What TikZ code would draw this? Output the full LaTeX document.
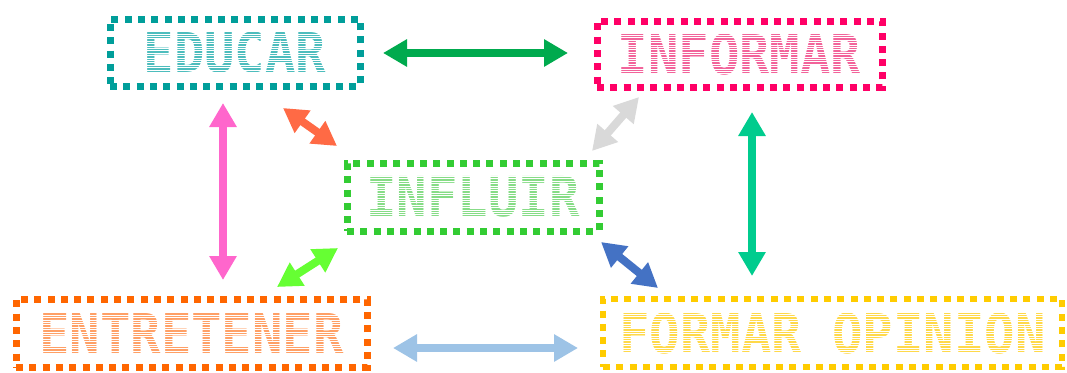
\documentclass[tikz,border=0pt]{standalone}
\usepackage{fontspec}
\setmonofont{DejaVu Sans Mono}
\usetikzlibrary{arrows.meta,calc}
\definecolor{cEdu}{HTML}{009E9A}
\definecolor{cEduT}{HTML}{4DBDBD}
\definecolor{cInf}{HTML}{FF0066}
\definecolor{cInfT}{HTML}{F2639A}
\definecolor{cFlu}{HTML}{33CC33}
\definecolor{cFluT}{HTML}{86DC86}
\definecolor{cEnt}{HTML}{FF6600}
\definecolor{cEntT}{HTML}{FFA066}
\definecolor{cFor}{HTML}{FFCC00}
\definecolor{cForT}{HTML}{FFD94A}
\definecolor{aGreen}{HTML}{00AA4E}
\definecolor{aPink}{HTML}{FF66CC}
\definecolor{aOrange}{HTML}{FF6A45}
\definecolor{aGrey}{HTML}{D9D9D9}
\definecolor{aTeal}{HTML}{00CC8E}
\definecolor{aLime}{HTML}{66FF33}
\definecolor{aBlue}{HTML}{4472C4}
\definecolor{aSky}{HTML}{9DC3E6}
\begin{document}
\begin{tikzpicture}[x=1pt,y=-1pt,
  box/.style={draw, rectangle, line width=7pt, dash pattern=on 7pt off 6.3pt,
    inner sep=0pt, outer sep=0pt},
  lbl/.style={inner sep=0pt, xscale=0.92, font=\ttfamily\bfseries\fontsize{55}{55}\selectfont},
  dbl/.style={line width=8pt, {Triangle[width=26pt,length=24pt]}-{Triangle[width=26pt,length=24pt]}},
  stripe/.style={draw=white, line width=0.8pt}
]
\useasboundingbox (0,0) rectangle (1067,372);
\node[box, draw=cEdu, minimum width=250pt, minimum height=67pt] (educar) at (235,52.5) {};
\node[lbl, text=cEduT] (teducar) at (educar.center) {EDUCAR};
\node[box, draw=cInf, minimum width=285pt, minimum height=66pt] (informar) at (739.5,54) {};
\node[lbl, text=cInfT] (tinformar) at (informar.center) {INFORMAR};
\node[box, draw=cFlu, minimum width=252pt, minimum height=68pt] (influir) at (473,197) {};
\node[lbl, text=cFluT] (tinfluir) at (influir.center) {INFLUIR};
\node[box, draw=cEnt, minimum width=351pt, minimum height=68pt] (entretener) at (191.5,333) {};
\node[lbl, text=cEntT] (tentretener) at (entretener.center) {ENTRETENER};
\node[box, draw=cFor, line width=6pt, minimum width=459pt, minimum height=68pt] (formar) at (832.5,333) {};
\node[lbl, text=cForT] (tformar) at (formar.center) {FORMAR OPINION};

% horizontal stripes over the lettering
\foreach \t in {teducar,tinformar,tinfluir,tentretener,tformar}{
  \foreach \k in {0,...,18}{
    \draw[stripe] ($(\t.north west)+(-2,2.4*\k)$) -- ($(\t.north east)+(2,2.4*\k)$);
  }
}

\draw[dbl, aGreen] ($(educar.east)+(23,0.5)$) -- ($(informar.west)+(-29,-1)$);
\draw[dbl, aPink] ($(educar.south)+(-12,17)$) -- ($(entretener.north)+(31.5,-19)$);
\draw[dbl, aOrange] ($(educar.south)+(48,22)$) -- ($(influir.north west)+(-10,-17)$);
\draw[dbl, aGrey] ($(informar.south west)+(42,10)$) -- ($(influir.north east)+(-7,-12)$);
\draw[dbl, aTeal] ($(informar.south)+(12.5,25)$) -- ($(formar.north)+(-80.5,-23)$);
\draw[dbl, aLime] ($(influir.south west)+(-9,17)$) -- ($(entretener.north)+(85.5,-12)$);
\draw[dbl, aBlue] ($(influir.south east)+(2,11)$) -- ($(formar.north west)+(55,-11)$);
\draw[dbl, aSky] ($(entretener.east)+(26,15)$) -- ($(formar.west)+(-25,15)$);
\end{tikzpicture}
\end{document}
